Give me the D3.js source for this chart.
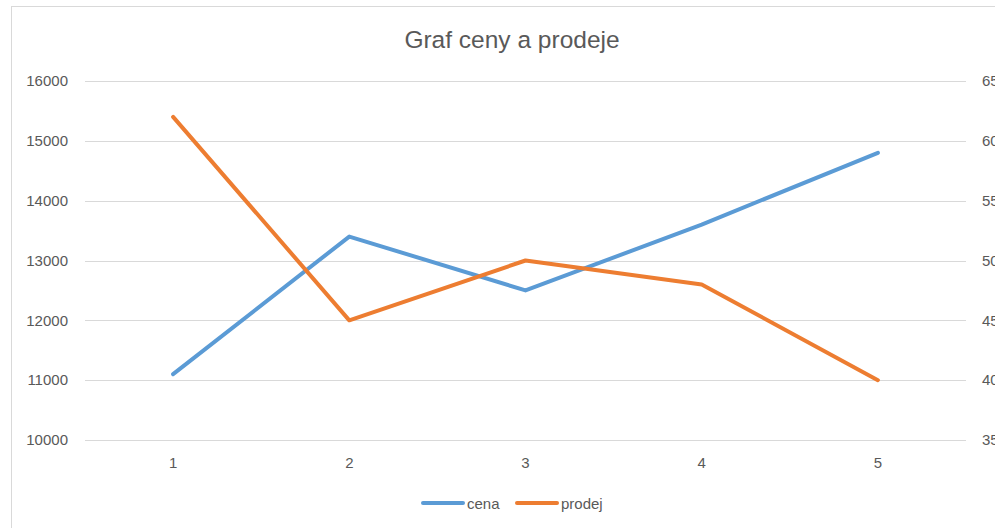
<!DOCTYPE html>
<html>
<head>
<meta charset="utf-8">
<script src="https://cdn.jsdelivr.net/npm/d3@7"></script>
<style>
  body { margin: 0; background: #fff; }
  text { font-family: "Liberation Sans", Arial, sans-serif; fill: #595959; }
</style>
</head>
<body>
<div id="chart"></div>
<script>
// data
var categories = [1, 2, 3, 4, 5];
var cena = [11100, 13400, 12500, 13600, 14800];
var prodej = [620, 450, 500, 480, 400];
var leftTicks = [10000, 11000, 12000, 13000, 14000, 15000, 16000];
var rightTicks = [350, 400, 450, 500, 550, 600, 650];

var W = 995, H = 528;
var plotLeft = 85, plotRight = 966, plotTop = 81, plotBottom = 440;

var svg = d3.select("#chart").append("svg")
  .attr("width", W).attr("height", H);

// chart area border (cropped on right and bottom)
svg.append("rect")
  .attr("x", 11.5).attr("y", 6.5)
  .attr("width", 1100).attr("height", 600)
  .attr("fill", "none").attr("stroke", "#d9d9d9");

var x = d3.scaleBand().domain(categories).range([plotLeft, plotRight]);
var yL = d3.scaleLinear().domain([10000, 16000]).range([plotBottom, plotTop]);
var yR = d3.scaleLinear().domain([350, 650]).range([plotBottom, plotTop]);

// gridlines
svg.append("g").selectAll("line")
  .data(leftTicks).enter().append("line")
  .attr("x1", plotLeft).attr("x2", plotRight)
  .attr("y1", function(d) { return Math.round(yL(d)) + 0.5; })
  .attr("y2", function(d) { return Math.round(yL(d)) + 0.5; })
  .attr("stroke", "#d9d9d9").attr("stroke-width", 1);

// left axis
var leftAxis = svg.append("g")
  .attr("transform", "translate(" + 68 + ",0)")
  .call(d3.axisLeft(yL).tickValues(leftTicks).tickSize(0).tickPadding(0).tickFormat(d3.format("d")));
leftAxis.select(".domain").remove();
leftAxis.selectAll("text").attr("font-size", 15).attr("fill", "#595959");

// right axis (cut off by the picture edge, as in the original)
var rightAxis = svg.append("g")
  .attr("transform", "translate(" + 982 + ",0)")
  .call(d3.axisRight(yR).tickValues(rightTicks).tickSize(0).tickPadding(0));
rightAxis.select(".domain").remove();
rightAxis.selectAll("text").attr("font-size", 15).attr("fill", "#595959");

// bottom axis
var bottomAxis = svg.append("g")
  .attr("transform", "translate(0," + 457 + ")")
  .call(d3.axisBottom(x).tickSize(0).tickPadding(0));
bottomAxis.select(".domain").remove();
bottomAxis.selectAll("text").attr("font-size", 15).attr("fill", "#595959");

// lines
var lineL = d3.line()
  .x(function(d, i) { return x(categories[i]) + x.bandwidth() / 2; })
  .y(function(d) { return yL(d); });
var lineR = d3.line()
  .x(function(d, i) { return x(categories[i]) + x.bandwidth() / 2; })
  .y(function(d) { return yR(d); });

svg.append("path").datum(cena)
  .attr("d", lineL)
  .attr("fill", "none").attr("stroke", "#5b9bd5")
  .attr("stroke-width", 4).attr("stroke-linecap", "round").attr("stroke-linejoin", "round");
svg.append("path").datum(prodej)
  .attr("d", lineR)
  .attr("fill", "none").attr("stroke", "#ed7d31")
  .attr("stroke-width", 4).attr("stroke-linecap", "round").attr("stroke-linejoin", "round");

// title
svg.append("text")
  .attr("x", 512).attr("y", 48)
  .attr("text-anchor", "middle")
  .attr("font-size", 24.5)
  .text("Graf ceny a prodeje");

// legend
var legend = [
  { name: "cena", color: "#5b9bd5", x: 423 },
  { name: "prodej", color: "#ed7d31", x: 517 }
];
legend.forEach(function(l) {
  svg.append("line")
    .attr("x1", l.x).attr("x2", l.x + 40)
    .attr("y1", 503).attr("y2", 503)
    .attr("stroke", l.color).attr("stroke-width", 4).attr("stroke-linecap", "round");
  svg.append("text")
    .attr("x", l.x + 44).attr("y", 508.5)
    .attr("font-size", 15)
    .text(l.name);
});
</script>
</body>
</html>
